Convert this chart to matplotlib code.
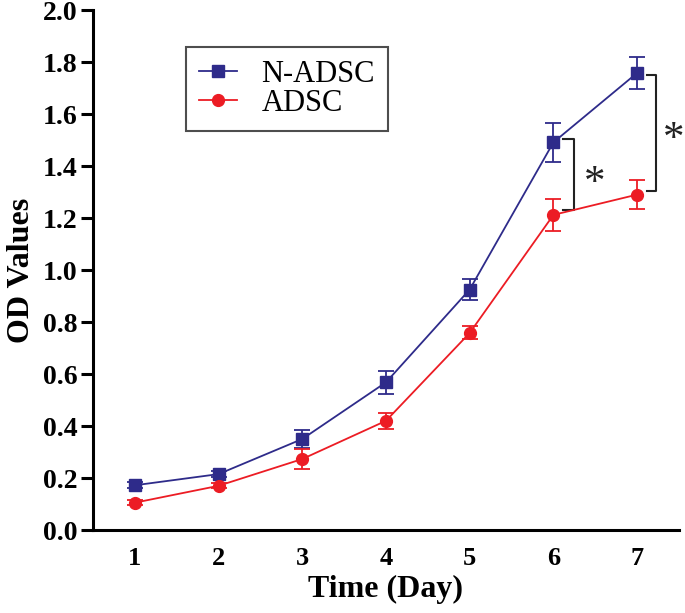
import matplotlib
matplotlib.use('Agg')
import matplotlib.pyplot as plt
from matplotlib.lines import Line2D

plt.rcParams['font.family'] = ['Liberation Serif', 'DejaVu Serif']

days = [1, 2, 3, 4, 5, 6, 7]
n_adsc = [0.172, 0.215, 0.35, 0.568, 0.925, 1.491, 1.758]
n_adsc_err = [0.012, 0.012, 0.035, 0.045, 0.042, 0.075, 0.06]
adsc = [0.105, 0.17, 0.273, 0.42, 0.758, 1.212, 1.29]
adsc_err = [0.01, 0.01, 0.04, 0.03, 0.025, 0.063, 0.056]

blue = '#2E2B8A'
red = '#EC1C24'

fig = plt.figure(figsize=(6.85, 6.13), dpi=100)
ax = fig.add_axes([93/685, 1-530/613, (679-93)/685, (530-10)/613])

ax.errorbar(days, n_adsc, yerr=n_adsc_err, color=blue, marker='s', markersize=8.5,
            lw=1.3, elinewidth=1.3, capsize=5.5, capthick=1.3)
ax.errorbar(days, adsc, yerr=adsc_err, color=red, marker='o', markersize=8.5,
            lw=1.3, elinewidth=1.3, capsize=5.5, capthick=1.3)

# significance brackets
ax.plot([6.115, 6.247, 6.247, 6.115], [1.505, 1.505, 1.231, 1.231], color='#222222', lw=1.5)
ax.plot([7.119, 7.227, 7.227, 7.119], [1.751, 1.751, 1.305, 1.305], color='#222222', lw=1.5, clip_on=False)
ax.text(6.498, 1.33, '*', fontsize=31, ha='center', va='center', color='#222222')
ax.text(7.44, 1.50, '*', fontsize=31, ha='center', va='center', color='#222222', clip_on=False)

ax.set_xlim(0.5, 7.5)
ax.set_ylim(0, 2.0)
ax.set_xticks(days)
ax.set_yticks([0.0, 0.2, 0.4, 0.6, 0.8, 1.0, 1.2, 1.4, 1.6, 1.8, 2.0])
ax.set_yticklabels(['%.1f' % v for v in ax.get_yticks()])
ax.tick_params(axis='x', length=0, pad=12, labelsize=19)
ax.tick_params(axis='y', length=9, width=2.2, pad=2, labelsize=20)
for lab in ax.get_xticklabels() + ax.get_yticklabels():
    lab.set_fontweight('bold')

ax.spines['top'].set_visible(False)
ax.spines['right'].set_visible(False)
ax.spines['left'].set_linewidth(2.2)
ax.spines['bottom'].set_linewidth(2.2)

ax.set_xlabel('Time (Day)', fontsize=23, fontweight='bold', labelpad=4)
ax.set_ylabel('OD Values', fontsize=23, fontweight='bold', labelpad=5)

handles = [Line2D([], [], color=blue, marker='s', markersize=8.5, lw=1.3),
           Line2D([], [], color=red, marker='o', markersize=8.5, lw=1.3)]
leg = fig.legend(handles, ['N-ADSC', 'ADSC'], loc='upper left', bbox_to_anchor=(186/685, 1-47/613),
                 fontsize=22, frameon=True, fancybox=False, edgecolor='#222222',
                 borderpad=0.42, labelspacing=0.0, handlelength=1.25, handletextpad=0.8,
                 borderaxespad=0)
leg.get_frame().set_linewidth(1.5)

plt.savefig('out.png', dpi=100)
